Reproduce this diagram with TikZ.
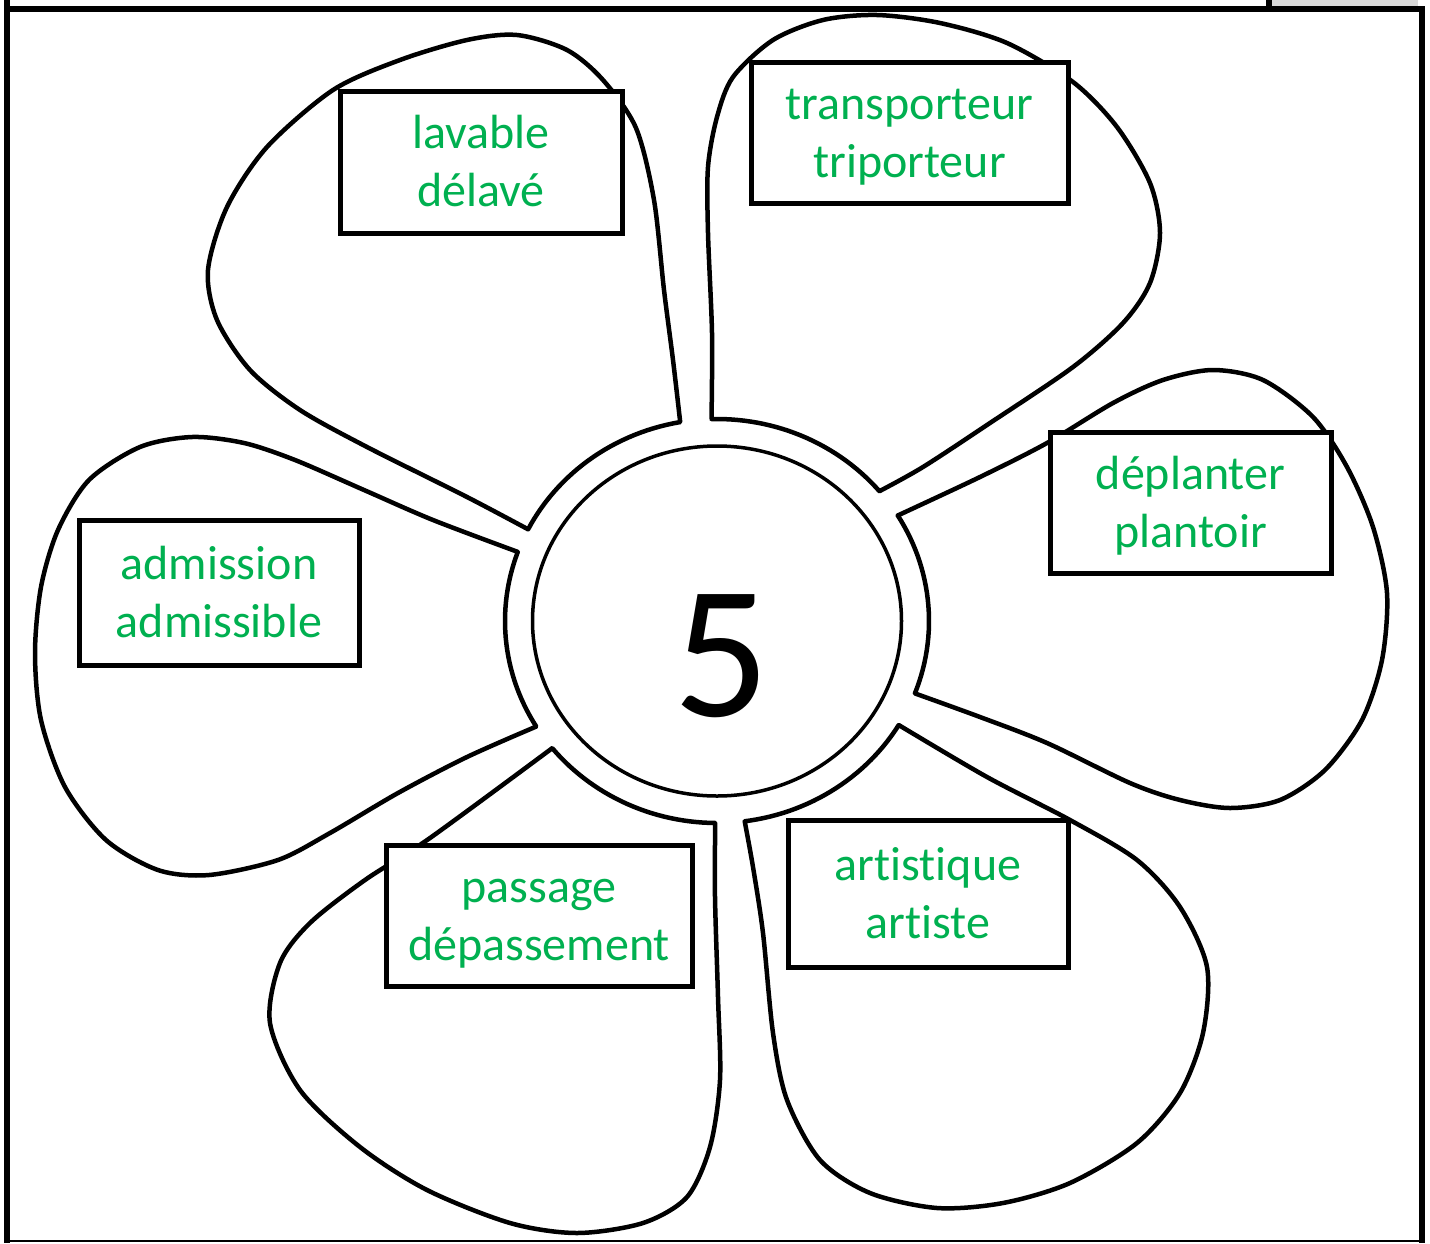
\documentclass[tikz,border=0pt]{standalone}
\usepackage{fontspec}
\setmainfont[Ligatures={NoCommon}]{Carlito}
\usepackage{tikz}
\usetikzlibrary{shapes.geometric}
\definecolor{vert}{RGB}{0,176,80}
\definecolor{gris}{RGB}{217,217,217}

\begin{document}
\begin{tikzpicture}[x=1pt, y=-1pt,
  petale/.style={draw, line width=4.5pt, line join=round},
  mot/.style={rectangle, draw, fill=white, line width=5pt, text=vert, align=center,
    font=\fontsize{48}{58}\selectfont, text height=93pt, text depth=4pt, inner sep=0pt}]
\useasboundingbox (0,0) rectangle (1430,1243);

% cadre
\fill[gris] (1272,0) rectangle (1418,6);
\fill (1266,0) rectangle (1272,6);
\draw[line width=6pt] (7,0) -- (7,1243);
\draw[line width=6pt] (4,9) -- (1425,9);
\draw[line width=6pt] (1422,6) -- (1422,1243);
\draw[line width=2pt] (7,1241) -- (1422,1241);

% petales
\draw[petale] plot[domain=100:153, samples=30, variable=\t] ({717+212*cos(\t)}, {621-202*sin(\t)})
  -- plot[smooth] coordinates {(528.1,529.3) (467,497) (367,447) (300,410) (250,370) (217,320) (208,270) (227,207) (267,147) (333,90) (400,60) (467,40) (517,35) (567,50) (603,80) (636,128) (654,200) (664,290) (673,360) (680.2,422.1)} -- cycle;
\draw[petale] plot[domain=40:91.5, samples=30, variable=\t] ({717+212*cos(\t)}, {621-202*sin(\t)})
  -- plot[smooth] coordinates {(711.5,419) (712,333) (708,233) (708,167) (717,117) (733,77) (773,40) (823,20) (877,15) (940,23) (1007,43) (1073,82) (1117,127) (1150,183) (1160,233) (1150,283) (1123,323) (1073,367) (990,423) (923,467) (879.4,491.2)} -- cycle;
\draw[petale] plot[domain=-21:31.5, samples=30, variable=\t] ({717+212*cos(\t)}, {621-202*sin(\t)})
  -- plot[smooth] coordinates {(897.7,515.5) (980,477) (1047,443) (1113,403) (1163,380) (1213,370) (1263,380) (1313,417) (1347,467) (1373,527) (1387,593) (1382,660) (1362,720) (1325,770) (1280,800) (1230,808) (1180,800) (1130,783) (1047,743) (980,717) (914.9,693.4)} -- cycle;
\draw[petale] plot[domain=-82.5:-31, samples=30, variable=\t] ({717+212*cos(\t)}, {621-202*sin(\t)})
  -- plot[smooth] coordinates {(898.7,725) (987,777) (1070,820) (1137,860) (1180,907) (1207,967) (1203,1033) (1180,1093) (1137,1143) (1070,1183) (1003,1203) (937,1208) (870,1193) (820,1160) (787,1100) (773,1033) (763,933) (753,867) (744.7,821.3)} -- cycle;
\draw[petale] plot[domain=-141:-90.5, samples=30, variable=\t] ({717+212*cos(\t)}, {621-202*sin(\t)})
  -- plot[smooth] coordinates {(715.2,823) (715,897) (718,997) (720,1080) (710,1147) (687,1197) (643,1223) (577,1233) (510,1223) (427,1190) (360,1147) (300,1090) (270,1023) (280,963) (310,923) (365,880) (430,838) (552.3,748.1)} -- cycle;
\draw[petale] plot[domain=160:211.5, samples=30, variable=\t] ({717+212*cos(\t)}, {621-202*sin(\t)})
  -- plot[smooth] coordinates {(536.3,726.5) (467,757) (398,793) (330,833) (278,860) (209,875) (158,870) (106,840) (65,787) (41,720) (35,653) (41,587) (58,530) (89,480) (140,447) (192,437) (244,443) (295,460) (364,490) (433,520) (517.8,551.9)} -- cycle;

\node (coeur) [ellipse, draw, line width=3.5pt, minimum width=369pt, minimum height=350pt, inner sep=0pt] at (717,621) {};
\node (chiffre) [inner sep=0pt, font=\fontsize{190}{190}\selectfont] at (722,656) {5};

\node (lavable) [mot, minimum width=282pt, minimum height=142pt] at (481,162) {lavable\\délavé};
\node (transporteur) [mot, minimum width=317pt, minimum height=141pt] at (909.5,132.5) {transporteur\\triporteur};
\node (deplanter) [mot, minimum width=281pt, minimum height=141pt] at (1190.5,502.5) {déplanter\\plantoir};
\node (admission) [mot, minimum width=280pt, minimum height=145pt] at (219,592.5) {admission\\admissible};
\node (passage) [mot, minimum width=306pt, minimum height=141pt] at (539,915.5) {passage\\dépassement};
\node (artistique) [mot, minimum width=280pt, minimum height=147pt] at (928,893.5) {artistique\\artiste};
\end{tikzpicture}
\end{document}
